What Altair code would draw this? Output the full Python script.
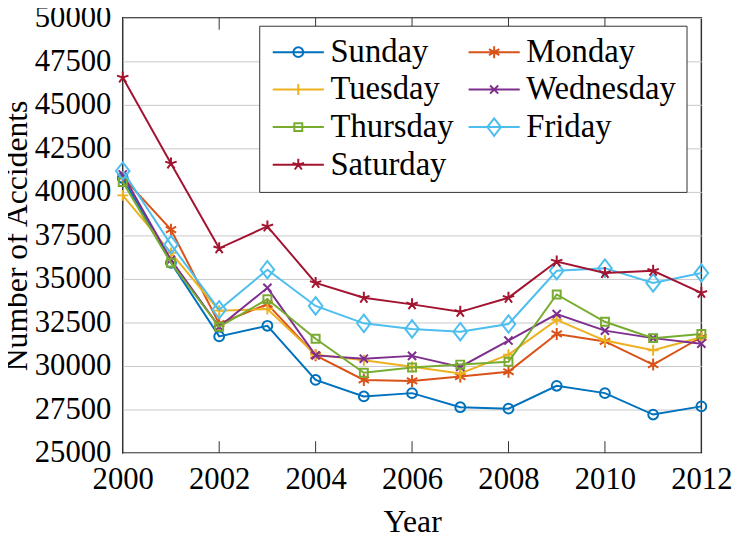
import altair as alt
import pandas as pd

years = list(range(2000, 2013))
days = ["Sunday", "Monday", "Tuesday", "Wednesday", "Thursday", "Friday", "Saturday"]
colors = ["#0072BD", "#D95319", "#EDB120", "#7E2F8E", "#77AC30", "#4DBEEE", "#A2142F"]

sunday = [40800, 35930, 31700, 32310, 29200, 28250, 28440, 27630, 27550, 28860, 28440, 27210, 27680]
monday = [40850, 37830, 32430, 33550, 30610, 29200, 29140, 29390, 29670, 31840, 31410, 30080, 31650]
tuesday = [39800, 36500, 33180, 33270, 30650, 30330, 29950, 29570, 30650, 32650, 31460, 30900, 31650]
wednesday = [41000, 36100, 32250, 34490, 30610, 30420, 30580, 29950, 31460, 32980, 32030, 31600, 31280]
thursday = [40570, 35930, 32250, 33830, 31560, 29610, 29910, 30080, 30240, 34110, 32540, 31600, 31840]
friday = [41200, 36970, 33230, 35530, 33450, 32450, 32130, 31970, 32410, 35470, 35620, 34770, 35340]
saturday = [46570, 41630, 36760, 38020, 34770, 33920, 33540, 33110, 33920, 36000, 35340, 35470, 34200]

series = [sunday, monday, tuesday, wednesday, thursday, friday, saturday]
tick_years = [2002, 2004, 2006, 2008, 2010]

rows = []
for d, vals in zip(days, series):
    for y, v in zip(years, vals):
        rows.append({"year": y, "day": d, "value": v})
df = pd.DataFrame(rows)

markers = {
    "Sunday": "M-0.9,0A0.9,0.9 0 1,1 0.9,0A0.9,0.9 0 1,1 -0.9,0Z",
    "Monday": "M0,-1.1L0,1.1M0.95,-0.55L-0.95,0.55M0.95,0.55L-0.95,-0.55",
    "Tuesday": "M-1,0L1,0M0,-1L0,1",
    "Wednesday": "M-0.75,-0.75L0.75,0.75M-0.75,0.75L0.75,-0.75",
    "Thursday": "M-0.73,-0.73L0.73,-0.73L0.73,0.73L-0.73,0.73Z",
    "Friday": "M0,-1.6L1.25,0L0,1.6L-1.25,0Z",
    "Saturday": "M0,0L0,-1.1M0,0L-1.05,-0.34M0,0L-0.65,0.89M0,0L0.65,0.89M0,0L1.05,-0.34",
}
legend_paths = ["M-4.7,0L4.7,0" + markers[d] for d in days]

MSIZE = 121
FONT = "Liberation Serif, DejaVu Serif, Noto Serif, Times New Roman, serif"

color_scale = alt.Scale(domain=days, range=colors)
xs = alt.Scale(domain=[2000, 2012], nice=False, zero=False)
ys = alt.Scale(domain=[25000, 50000], nice=False, zero=False)

x_enc = alt.X("year:Q", scale=xs,
              axis=alt.Axis(title="Year", values=list(range(2000, 2013, 2)), format="d",
                            grid=False, ticks=False, domain=False, labelFlush=False,
                            labelOverlap=False, labelPadding=12, titlePadding=12))
y_enc = alt.Y("value:Q", scale=ys,
              axis=alt.Axis(title="Number of Accidents", values=list(range(25000, 50001, 2500)),
                            format="d", grid=True, ticks=False, domain=False, labelFlush=False,
                            labelOverlap=False, labelPadding=12, titlePadding=1))

leg = alt.Legend(title=None, orient="none", legendX=138, legendY=8, columns=2, direction="horizontal",
                 labelFont=FONT, labelFontSize=33, labelColor="black", labelLimit=400,
                 symbolSize=MSIZE, symbolStrokeWidth=2, symbolOffset=13, labelOffset=16,
                 columnPadding=10, rowPadding=4, padding=10,
                 fillColor="white", strokeColor="#333333", cornerRadius=0)

color_enc = alt.Color("day:N", scale=color_scale, legend=leg)

base = alt.Chart(df)
layers = []
for d in days:
    sub = base.transform_filter(alt.datum.day == d)
    layers.append(sub.mark_line(strokeWidth=2).encode(x=x_enc, y=y_enc, color=color_enc))
    layers.append(sub.mark_point(shape=markers[d], filled=False, size=MSIZE, strokeWidth=2, opacity=1).encode(
        x=x_enc, y=y_enc, color=color_enc))

ticks_df = pd.DataFrame({"year": tick_years})
tick_base = alt.Chart(ticks_df)
bottom_ticks = tick_base.mark_rule(color="#333333", strokeWidth=1).encode(
    x=alt.X("year:Q", scale=xs), y=alt.value(428), y2=alt.value(440))
top_ticks = tick_base.mark_rule(color="#333333", strokeWidth=1).encode(
    x=alt.X("year:Q", scale=xs), y=alt.value(0), y2=alt.value(12))

legend_layer = base.transform_filter(alt.datum.value < 0).mark_point(filled=False, strokeWidth=2).encode(
    x=alt.X("year:Q", scale=xs), y=alt.Y("value:Q", scale=ys),
    color=color_enc,
    shape=alt.Shape("day:N", scale=alt.Scale(domain=days, range=legend_paths), legend=leg),
)

chart = alt.layer(*layers, bottom_ticks, top_ticks, legend_layer).properties(
    width=585, height=440,
    autosize=alt.AutoSizeParams(type="none"),
    padding={"left": 116, "top": 7, "right": 33, "bottom": 84},
).configure(font=FONT).configure_view(stroke="#333333", strokeWidth=1.5).configure_axis(
    labelFont=FONT, labelFontSize=31, labelColor="black",
    titleFont=FONT, titleFontSize=32, titleColor="black", titleFontWeight="normal",
    gridColor="#c8c8c8", gridWidth=1,
)

chart.save("out.html", embed_options={"renderer": "svg", "actions": False})
